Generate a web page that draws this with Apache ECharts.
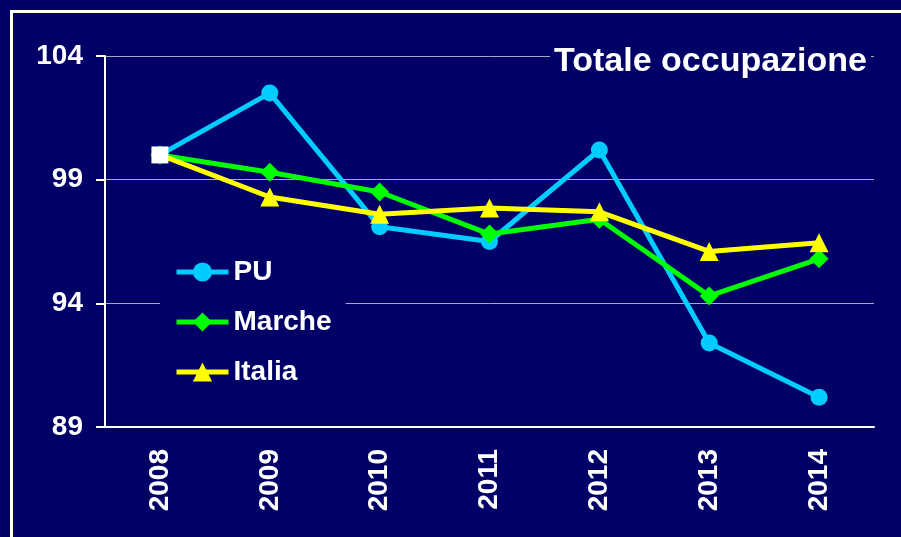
<!DOCTYPE html>
<html>
<head>
<meta charset="utf-8">
<script src="https://cdn.jsdelivr.net/npm/echarts@6/dist/echarts.min.js"></script>
<style>
  html, body { margin: 0; padding: 0; background: #000066; }
  #chart { width: 901px; height: 537px; }
</style>
</head>
<body>
<div id="chart"></div>
<script>
const years = ['2008', '2009', '2010', '2011', '2012', '2013', '2014']
const yTicks = [89, 94, 99, 104]
const puValues = [100, 102.5, 97.1, 96.5, 100.2, 92.4, 90.2]
const marcheValues = [100, 99.3, 98.5, 96.8, 97.4, 94.3, 95.8]
const italiaValues = [100, 98.3, 97.6, 97.85, 97.7, 96.1, 96.45]

const bg = '#000066'
const font = 'Liberation Sans, Arial, sans-serif'

const chart = echarts.init(document.getElementById('chart'))

// base year point is drawn as a white square on top of the lines
const italiaData = italiaValues.map((v, i) => i === 0
  ? { value: v, symbol: 'rect', symbolSize: 17, itemStyle: { color: '#ffffff' } }
  : v)

chart.setOption({
  backgroundColor: bg,
  animation: false,
  title: {
    text: 'Totale occupazione',
    right: 30,
    top: 43,
    padding: [2, 4],
    backgroundColor: bg,
    textStyle: { color: '#ffffff', fontFamily: font, fontWeight: 'bold', fontSize: 34 }
  },
  legend: {
    orient: 'vertical',
    left: 160,
    top: 252,
    padding: [6, 14, 6, 14],
    itemGap: 22,
    itemWidth: 52,
    itemHeight: 24,
    backgroundColor: bg,
    lineStyle: { width: 5 },
    textStyle: { color: '#ffffff', fontFamily: font, fontWeight: 'bold', fontSize: 28 },
    data: ['PU', 'Marche', 'Italia']
  },
  grid: { left: 105, right: 27, top: 56, bottom: 110 },
  xAxis: {
    type: 'category',
    data: years,
    boundaryGap: true,
    axisLine: { lineStyle: { color: '#ffffff', width: 2 } },
    axisTick: { length: 9, lineStyle: { color: '#ffffff', width: 2 } },
    axisLabel: {
      rotate: 90,
      margin: 22,
      color: '#ffffff',
      fontFamily: font,
      fontWeight: 'bold',
      fontSize: 28
    }
  },
  yAxis: {
    type: 'value',
    min: yTicks[0],
    max: yTicks[yTicks.length - 1],
    interval: yTicks[1] - yTicks[0],
    axisLine: { show: true, lineStyle: { color: '#ffffff', width: 2 } },
    axisTick: { show: true, length: 9, lineStyle: { color: '#ffffff', width: 2 } },
    splitLine: { lineStyle: { color: '#a8a8c4', width: 1 } },
    axisLabel: {
      margin: 22,
      color: '#ffffff',
      fontFamily: font,
      fontWeight: 'bold',
      fontSize: 28
    }
  },
  graphic: [{
    type: 'rect',
    left: 9,
    top: 9,
    shape: { width: 920, height: 560 },
    style: { fill: 'none', stroke: '#ffffff', lineWidth: 3 },
    silent: true
  }],
  series: [{
    name: 'PU',
    type: 'line',
    data: puValues,
    symbol: 'circle',
    symbolSize: 17,
    color: '#00ccff',
    lineStyle: { width: 5 }
  }, {
    name: 'Marche',
    type: 'line',
    data: marcheValues,
    symbol: 'diamond',
    symbolSize: 19,
    color: '#00ff00',
    lineStyle: { width: 5 }
  }, {
    name: 'Italia',
    type: 'line',
    data: italiaData,
    symbol: 'triangle',
    symbolSize: 19,
    color: '#ffff00',
    lineStyle: { width: 5 }
  }]
})
</script>
</body>
</html>
